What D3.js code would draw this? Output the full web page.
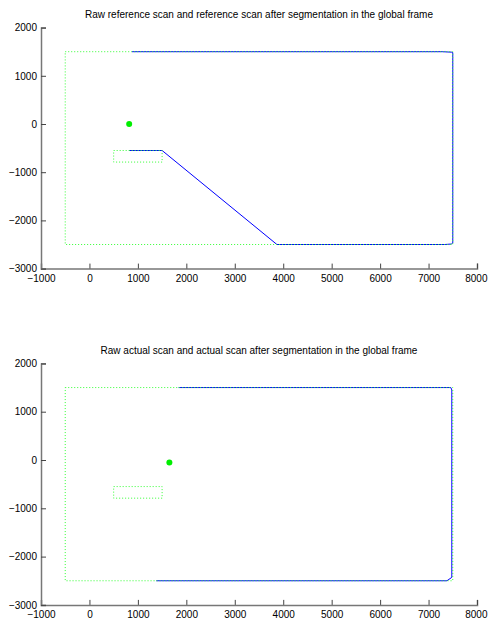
<!DOCTYPE html>
<html><head><meta charset="utf-8">
<script src="https://cdn.jsdelivr.net/npm/d3@7"></script>
<style>body{margin:0;background:#fff}svg{display:block}text{font-family:"Liberation Sans",Arial,sans-serif;font-size:10px;fill:#000}</style>
</head><body>
<script>
// ---- data ----
const xTicks = [-1000,0,1000,2000,3000,4000,5000,6000,7000,8000];
const yTicks = [-3000,-2000,-1000,0,1000,2000];
const titles = ["Raw reference scan and reference scan after segmentation in the global frame",
                "Raw actual scan and actual scan after segmentation in the global frame"];
// raw scan (same room in both frames): outer walls and box obstacle
const rawWallX = [-500, 7500, 7500, -500, -500];
const rawWallY = [1500, 1500, -2500, -2500, 1500];
const rawBoxX = [500, 1500, 1500, 500, 500];
const rawBoxY = [-550, -550, -790, -790, -550];
// segmented reference scan
const refSegX = [820, 1500, 3870, 7340, 7470, 7500, 7500, 7480, 7280, 880];
const refSegY = [-550, -550, -2500, -2500, -2490, -2470, 1480, 1490, 1500, 1500];
const refPoseX = [820], refPoseY = [0];
// segmented actual scan
const actSegX = [1380, 7380, 7480, 7480, 7460, 1840];
const actSegY = [-2500, -2500, -2430, 1450, 1500, 1500];
const actPoseX = [1650], actPoseY = [-50];

const W = 488, H = 623;
const svg = d3.select("body").append("svg").attr("width", W).attr("height", H);

const panels = [
  {top: 27.6, bottom: 268.6, title: titles[0], titleY: 15, seg: [refSegX, refSegY], pose: [refPoseX, refPoseY]},
  {top: 363.4, bottom: 604.9, title: titles[1], titleY: 351, seg: [actSegX, actSegY], pose: [actPoseX, actPoseY]}
];

panels.forEach(p => {
  const x = d3.scaleLinear().domain([-1000, 8000]).range([41, 477]);
  const y = d3.scaleLinear().domain([-3000, 2000]).range([p.bottom, p.top]);
  const g = svg.append("g");
  const line = d3.line().x(d => x(d[0])).y(d => y(d[1]));
  const zip = (a, b) => a.map((v, i) => [v, b[i]]);

  // segmented scan (blue)
  g.append("path").attr("d", line(zip(p.seg[0], p.seg[1])))
    .attr("fill", "none").attr("stroke", "#0000ff").attr("stroke-width", 1);
  // raw scan (green dotted)
  [[rawWallX, rawWallY], [rawBoxX, rawBoxY]].forEach(r => {
    g.append("path").attr("d", line(zip(r[0], r[1])))
      .attr("fill", "none").attr("stroke", "#33ff33").attr("stroke-width", 1)
      .attr("stroke-dasharray", "1,2");
  });
  // pose
  g.append("circle").attr("cx", x(p.pose[0][0])).attr("cy", y(p.pose[1][0])).attr("r", 3)
    .attr("fill", "#00ee00");

  // axes
  const fmt = d3.format("d");
  const ax = g.append("g").attr("transform", `translate(0,${p.bottom})`)
    .call(d3.axisBottom(x).tickValues(xTicks).tickFormat(fmt).tickSize(-5).tickPadding(4));
  const ay = g.append("g").attr("transform", `translate(41,0)`)
    .call(d3.axisLeft(y).tickValues(yTicks).tickFormat(fmt).tickSize(-5).tickPadding(4));
  [ax, ay].forEach(a => {
    a.select(".domain").attr("stroke", "#777").attr("stroke-width", 1.5);
    a.selectAll(".tick line").attr("stroke", "#444");
    a.selectAll("text").attr("font-family", "Liberation Sans, Arial, sans-serif").attr("font-size", 10).attr("fill", "#000");
  });
  ax.selectAll("text").attr("dy", "0.9em");
  ax.selectAll(".tick:last-of-type text").attr("text-anchor", "end").attr("x", 10);
  g.append("text").attr("x", 259).attr("y", p.titleY).attr("text-anchor", "middle")
    .attr("dominant-baseline", "middle").text(p.title);
});
</script>
</body></html>
